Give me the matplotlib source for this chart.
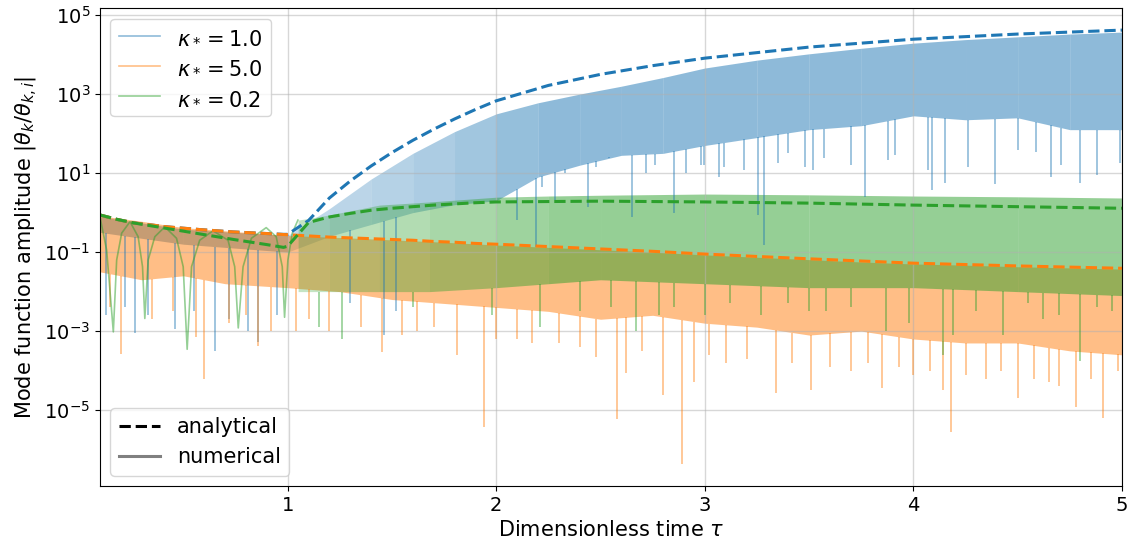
import numpy as np
import matplotlib
matplotlib.use("Agg")
import matplotlib.pyplot as plt
from matplotlib.lines import Line2D
from matplotlib.ticker import FixedLocator, NullLocator

# values are log10 of the amplitude
tau_an = [0.1, 0.18, 0.26, 0.42, 0.58, 0.74, 0.9, 0.98, 1.0, 1.1, 1.2, 1.3, 1.4, 1.5, 1.6, 1.7, 1.8,
          1.9, 2.0, 2.25, 2.5, 2.75, 3.0, 3.5, 4.0, 4.5, 5.0]
blue_an = [-0.06, -0.17, -0.26, -0.36, -0.43, -0.49, -0.53, -0.55, -0.55, -0.2, 0.37, 0.8, 1.18, 1.52, 1.83,
           2.11, 2.37, 2.61, 2.83, 3.22, 3.5, 3.72, 3.91, 4.19, 4.39, 4.52, 4.62]
orange_an = [-0.06, -0.17, -0.26, -0.36, -0.43, -0.49, -0.53, -0.555, -0.56, -0.59, -0.62, -0.64, -0.66, -0.68,
             -0.7, -0.73, -0.75, -0.78, -0.8, -0.86, -0.92, -0.98, -1.05, -1.17, -1.28, -1.35, -1.41]
green_an = [-0.06, -0.17, -0.26, -0.4, -0.54, -0.68, -0.81, -0.88, -0.85, -0.25, -0.11, -0.02, 0.06, 0.11,
            0.15, 0.19, 0.22, 0.25, 0.27, 0.28, 0.29, 0.28, 0.27, 0.24, 0.19, 0.15, 0.11]

# numerical kappa=1.0 (blue): band top / bottom + notches
tau_bn = [0.1, 0.5, 1.0, 1.2, 1.4, 1.6, 1.8, 2.0, 2.2, 2.4, 2.6, 2.8, 3.0, 3.25, 3.5, 3.75, 4.0, 4.25,
          4.5, 4.75, 5.0]
blue_up = [-0.1, -0.42, -0.58, 0.1, 0.85, 1.5, 2.05, 2.5, 2.78, 3.0, 3.2, 3.42, 3.66, 3.86, 4.02, 4.16,
           4.29, 4.38, 4.45, 4.52, 4.57]
blue_lo = [-0.5, -0.8, -1.0, -0.6, -0.3, 0.0, 0.2, 0.3, 0.9, 1.2, 1.45, 1.5, 1.7, 1.9, 2.1, 2.2, 2.45,
           2.35, 2.4, 2.1, 2.1]
# how dense the oscillation looks on each interval (arcs before tau~2.2)
blue_fill = [0.5, 0.5, 0.28, 0.3, 0.33, 0.37, 0.42, 0.47, 0.5, 0.5, 0.5, 0.5, 0.5, 0.5, 0.5, 0.5, 0.5,
             0.5, 0.5, 0.5]
blue_sp_t = [0.13, 0.22, 0.27, 0.33, 0.46, 0.55, 0.65, 0.72, 0.81, 0.86, 0.95, 1.3, 1.46, 1.52,
             2.1, 2.19, 2.22, 2.28, 2.33, 2.44, 2.48, 2.54, 2.65, 2.72, 2.76, 2.85, 2.91, 2.98,
             2.995, 3.066, 3.093, 3.19, 3.254, 3.285, 3.35, 3.4, 3.48, 3.52, 3.57, 3.7, 3.77, 3.88,
             3.91, 4.07, 4.09, 4.15, 4.26, 4.39, 4.5, 4.59, 4.66, 4.71, 4.8, 4.88, 4.99]
blue_sp_v = [-2.6, -2.4, -3.05, -2.6, -2.95, -2.5, -3.5, -2.7, -3.0, -3.28, -2.6, -2.3, -3.1, -2.5,
             -0.19, -0.87, 0.65, 0.32, 1.0, 0.15, 1.15, 1.4, -0.1, 1.0, 1.2, 0.0, 1.0, 1.2,
             1.2, 0.91, 1.16, 1.08, -0.06, -0.82, 1.25, 1.5, 1.16, 1.08, 1.37, 1.2, 0.4, 1.33,
             1.46, 1.08, 0.57, 0.74, 1.16, 0.72, 1.58, 1.54, 0.91, 1.2, 0.74, 0.95, 1.25]

# numerical kappa=5.0 (orange)
tau_on = [0.1, 0.3, 0.5, 0.7, 1.0, 1.25, 1.5, 1.75, 2.0, 2.25, 2.5, 2.75, 3.0, 3.25, 3.5, 3.75, 4.0,
          4.25, 4.5, 4.75, 5.0]
orange_up = [-0.08, -0.22, -0.38, -0.46, -0.58, -0.63, -0.69, -0.75, -0.82, -0.88, -0.94, -1.0, -1.07,
             -1.13, -1.19, -1.25, -1.3, -1.33, -1.37, -1.4, -1.43]
orange_lo = [-1.5, -1.7, -1.6, -1.8, -1.9, -2.0, -2.2, -2.3, -2.4, -2.5, -2.7, -2.6, -2.8, -2.9, -3.1,
             -3.0, -3.2, -3.3, -3.3, -3.5, -3.6]
orange_sp_t = [0.2, 0.35, 0.56, 0.6, 0.72, 0.86, 0.92, 1.04, 1.2, 1.45, 1.62, 1.81, 1.94, 2.1, 2.3, 2.48,
               2.58, 2.62, 2.8, 2.89, 2.95, 3.1, 3.34, 3.51, 3.7, 3.85, 4.0, 4.14, 4.18, 4.35, 4.5,
               4.65, 4.78, 4.91, 4.98, 0.15, 0.45, 0.8, 1.1, 1.35, 1.55, 1.7, 2.0, 2.17, 2.4, 2.7,
               3.02, 3.2, 3.42, 3.6, 3.78, 3.93, 4.08, 4.25, 4.42, 4.58, 4.7, 4.85]
orange_sp_v = [-3.58, -2.7, -3.15, -4.2, -2.8, -3.38, -3.0, -3.0, -3.0, -3.53, -3.0, -3.6, -5.43, -3.2,
               -3.3, -3.65, -5.23, -4.06, -4.62, -6.37, -4.3, -3.8, -4.57, -4.5, -4.0, -4.45, -4.1, -4.5,
               -5.56, -4.2, -4.7, -4.3, -4.92, -5.2, -4.0, -2.4, -2.5, -2.6, -2.7, -2.9, -3.1, -2.9,
               -3.2, -3.3, -3.4, -3.5, -3.6, -3.7, -3.8, -3.9, -3.8, -3.9, -4.0, -4.1, -4.0, -4.2,
               -4.4, -4.2]

# numerical kappa=0.2 (green): single arcs before tau~1, band afterwards
green_arc_t = [0.1, 0.132, 0.164, 0.18, 0.204, 0.244, 0.283, 0.304, 0.315, 0.331, 0.363, 0.411, 0.467,
               0.499, 0.518, 0.539, 0.578, 0.642, 0.714, 0.746, 0.763, 0.786, 0.826, 0.897, 0.945,
               0.974, 0.985, 1.001, 1.022, 1.049]
green_arc_v = [-0.11, -0.95, -3.02, -1.2, -0.52, -0.23, -0.61, -1.37, -2.68, -1.2, -0.61, -0.36, -0.65,
               -1.37, -3.46, -1.37, -0.7, -0.46, -0.7, -1.37, -2.92, -1.37, -0.65, -0.38, -0.61,
               -1.37, -2.65, -1.2, -0.52, -0.19]
tau_gn = [1.05, 1.2, 1.44, 1.68, 2.0, 2.25, 2.5, 3.0, 3.5, 4.0, 4.5, 5.0]
green_up = [-0.19, -0.06, 0.19, 0.27, 0.39, 0.42, 0.44, 0.47, 0.45, 0.42, 0.4, 0.37]
green_lo = [-2.0, -2.0, -2.0, -2.0, -1.9, -1.8, -1.7, -1.8, -1.9, -1.9, -2.0, -2.1]
green_fill = [0.28, 0.32, 0.36, 0.41, 0.46, 0.5, 0.5, 0.5, 0.5, 0.5, 0.5]
green_sp_t = [1.15, 1.26, 1.6, 1.98, 2.21, 2.4, 2.67, 2.85, 3.0, 3.27, 3.4, 3.58, 3.87, 3.98, 4.14,
              4.19, 4.43, 4.62, 4.8, 4.95, 2.55, 2.78, 3.12, 3.5, 3.7, 4.3, 4.55, 4.7, 4.88]
green_sp_v = [-2.9, -3.2, -2.4, -2.6, -2.9, -2.5, -3.0, -2.4, -2.6, -2.6, -2.3, -2.5, -3.0, -2.8, -3.6,
              -3.1, -3.1, -2.7, -3.76, -2.5, -2.4, -2.6, -2.3, -2.5, -2.4, -2.5, -2.3, -2.6, -2.4]

labels = [r'$\kappa_* = 1.0$', r'$\kappa_* = 5.0$', r'$\kappa_* = 0.2$']
colors = ['C0', 'C1', 'C2']
yticks = [1e-5, 1e-3, 1e-1, 1e1, 1e3, 1e5]

fig = plt.figure(figsize=(11.31, 5.43), dpi=100)
ax = fig.add_axes([0.0884, 0.105, 0.9036, 0.88])
ax.set_yscale('log')


def p(v):
    return 10.0 ** np.asarray(v)


def band(t, up, lo, sp_t, sp_v, c, fill=None):
    if fill is None:
        ax.fill_between(t, p(lo), p(up), color=c, alpha=0.5, lw=0)
    else:
        for i, a in enumerate(fill):
            ax.fill_between(t[i:i + 2], p(lo[i:i + 2]), p(up[i:i + 2]), color=c, alpha=a, lw=0)
    tops = np.interp(sp_t, t, lo)
    ax.vlines(sp_t, p(sp_v), p(tops), color=c, alpha=0.5, lw=1.2)


band(tau_bn, blue_up, blue_lo, blue_sp_t, blue_sp_v, 'C0', blue_fill)
band(tau_on, orange_up, orange_lo, orange_sp_t, orange_sp_v, 'C1')
ax.plot(green_arc_t, p(green_arc_v), color='C2', alpha=0.5, lw=1.2)
band(tau_gn, green_up, green_lo, green_sp_t, green_sp_v, 'C2', green_fill)

ax.plot(tau_an, p(blue_an), '--', color='C0', lw=2.2)
ax.plot(tau_an, p(orange_an), '--', color='C1', lw=2.2)
ax.plot(tau_an, p(green_an), '--', color='C2', lw=2.2)

ax.set_xlim(0.1, 5)
ax.set_ylim(1.2e-7, 1.5e5)
ax.set_xticks([1, 2, 3, 4, 5])
ax.yaxis.set_major_locator(FixedLocator(yticks))
ax.yaxis.set_minor_locator(NullLocator())
ax.tick_params(labelsize=14)
ax.grid(True, color='#b0b0b0', alpha=0.5, lw=1)
ax.set_xlabel(r'Dimensionless time $\tau$', fontsize=15)
ax.set_ylabel(r'Mode function amplitude $|\theta_k/\theta_{k,i}|$', fontsize=15)

h1 = [Line2D([], [], color=c, alpha=0.5, lw=1.2) for c in colors]
leg1 = ax.legend(h1, labels, loc='upper left', fontsize=15)
ax.add_artist(leg1)
h2 = [Line2D([], [], color='black', ls='--', lw=2.2),
      Line2D([], [], color='gray', lw=2.2)]
ax.legend(h2, ['analytical', 'numerical'], loc='lower left', fontsize=15)

fig.savefig('out.png', dpi=100)
